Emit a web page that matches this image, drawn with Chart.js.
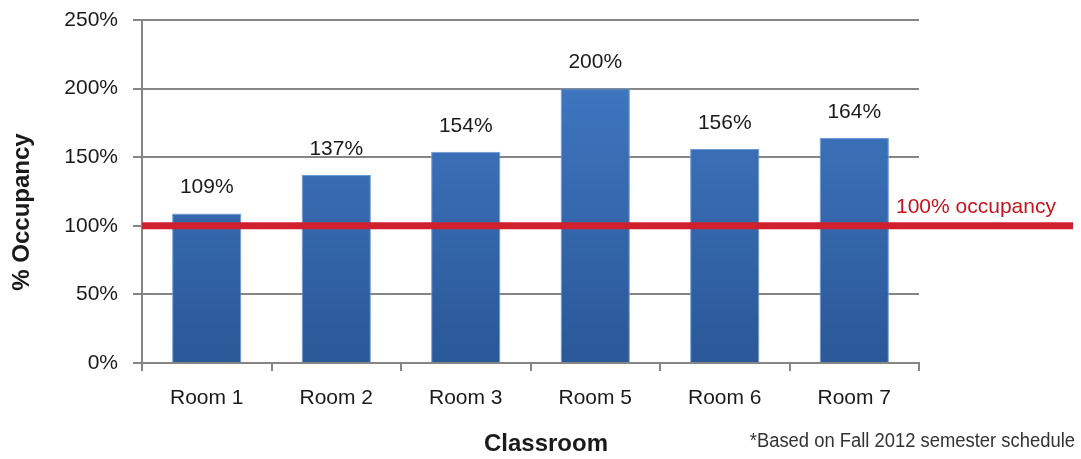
<!DOCTYPE html>
<html>
<head>
<meta charset="utf-8">
<script src="https://cdn.jsdelivr.net/npm/chart.js@4/dist/chart.umd.min.js"></script>
<style>
  html, body { margin: 0; padding: 0; background: #fff; }
  #wrap { width: 1081px; height: 459px; }
</style>
</head>
<body>
<div id="wrap"><canvas id="myChart" width="1081" height="459"></canvas></div>
<script>
var salas = ['Room 1', 'Room 2', 'Room 3', 'Room 5', 'Room 6', 'Room 7'];
var ocupacao = [109, 137, 154, 200, 156, 164];
var linhaLimite = 100;
var textoLimite = '100% occupancy';
var tituloX = 'Classroom';
var tituloY = '% Occupancy';
var nota = '*Based on Fall 2012 semester schedule';

var fonte = "'Liberation Sans', Arial, sans-serif";

// rótulos em cima das barras + linha vermelha + títulos + nota de rodapé
var extras = {
    id: 'extras',
    afterDatasetsDraw: function(chart){
        var ctx = chart.ctx;
        var meta = chart.getDatasetMeta(0);
        ctx.save();
        ctx.fillStyle = '#1a1a1a';
        ctx.font = '21px ' + fonte;
        ctx.textAlign = 'center';
        ctx.textBaseline = 'middle';
        meta.data.forEach(function(bar, i){
            ctx.fillText(ocupacao[i] + '%', bar.x, bar.y - 26);
        });

        var y = chart.scales.y.getPixelForValue(linhaLimite);
        ctx.strokeStyle = '#d0202e';
        ctx.lineWidth = 7;
        ctx.beginPath();
        ctx.moveTo(chart.chartArea.left, y);
        ctx.lineTo(1073, y);
        ctx.stroke();

        ctx.fillStyle = '#c8141f';
        ctx.font = '21px ' + fonte;
        ctx.textAlign = 'left';
        ctx.fillText(textoLimite, 896, y - 19);

        // nota: fonte normal comprimida na horizontal
        ctx.fillStyle = '#333';
        ctx.font = '20px ' + fonte;
        ctx.textAlign = 'right';
        ctx.save();
        ctx.translate(1075, 441);
        ctx.scale(0.92, 1);
        ctx.fillText(nota, 0, 0);
        ctx.restore();

        ctx.fillStyle = '#1a1a1a';
        ctx.font = 'bold 24px ' + fonte;
        ctx.textAlign = 'center';
        ctx.fillText(tituloX, 546, 444);

        ctx.save();
        ctx.translate(22, 212);
        ctx.rotate(-Math.PI / 2);
        ctx.fillText(tituloY, 0, 0);
        ctx.restore();
        ctx.restore();
    }
};

var ctx = document.getElementById('myChart');
var myChart = new Chart(ctx, {
    type: 'bar',
    data: {
        labels: salas,
        datasets: [{
            label: '% Occupancy',
            data: ocupacao,
            backgroundColor: function(context){
                var area = context.chart.chartArea;
                if (!area) return '#3a6fb8';
                var g = context.chart.ctx.createLinearGradient(0, area.top, 0, area.bottom);
                g.addColorStop(0, '#437cc8');
                g.addColorStop(1, '#2a5898');
                return g;
            },
            borderColor: '#6d9ad6',
            borderWidth: 1,
            barPercentage: 0.535,
            categoryPercentage: 1
        }]
    },
    options: {
        responsive: false,
        animation: false,
        layout: { padding: { left: 0, right: 162, top: 20, bottom: 0 } },
        plugins: {
            legend: { display: false },
            tooltip: { enabled: false }
        },
        scales: {
            y: {
                min: 0,
                max: 250,
                afterFit: function(scale){
                    scale.width = 142;
                    scale.paddingTop = 0;
                    scale.paddingBottom = 0;
                },
                ticks: {
                    stepSize: 50,
                    padding: 15,
                    color: '#1a1a1a',
                    font: { family: fonte, size: 21 },
                    callback: function(v){ return v + '%'; }
                },
                grid: { color: '#858585', lineWidth: 2, tickLength: 9 },
                border: { color: '#858585', width: 2 }
            },
            x: {
                afterFit: function(scale){ scale.height = 96; },
                ticks: {
                    padding: 15,
                    color: '#1a1a1a',
                    font: { family: fonte, size: 21 }
                },
                grid: { drawOnChartArea: false, color: '#858585', lineWidth: 2, tickLength: 8 },
                border: { color: '#858585', width: 2 }
            }
        }
    },
    plugins: [extras]
});
</script>
</body>
</html>
